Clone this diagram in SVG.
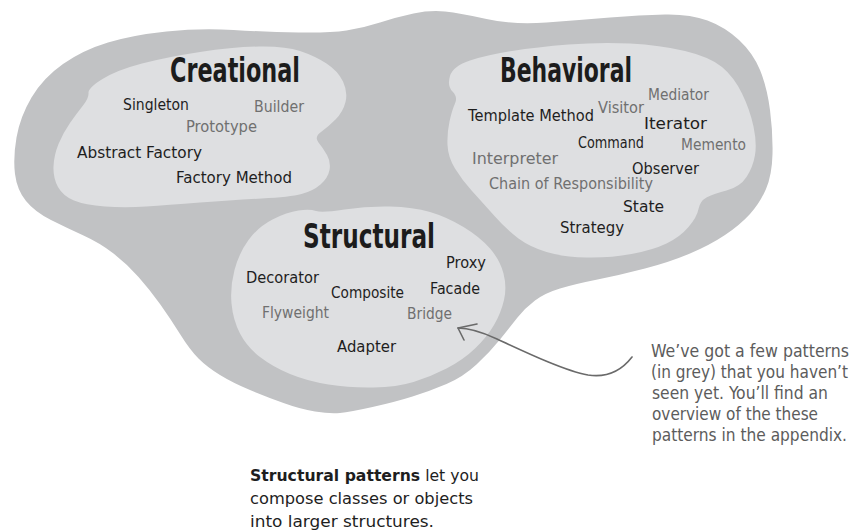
<svg xmlns="http://www.w3.org/2000/svg" width="850" height="531" viewBox="0 0 850 531">
<style>
.outer{fill:#c1c2c4}
.bub{fill:#dedfe1}
.title{font-family:"DejaVu Sans",sans-serif;font-weight:bold;font-stretch:condensed;font-size:34px;fill:#1c1c1c}
.it{font-family:"DejaVu Sans",sans-serif;font-size:15px;fill:#1e1e1e}
.g{fill:#707070}
.note{font-family:"DejaVu Sans",sans-serif;font-stretch:condensed;font-size:17px;fill:#5c5c5c}
.cap{font-family:"DejaVu Sans",sans-serif;font-size:15px;fill:#1e1e1e}
.conn{fill:none;stroke:#6a6a6a;stroke-width:1.6;stroke-linecap:round;stroke-linejoin:round}
</style>
<rect width="850" height="531" fill="#ffffff"/>
<g id="outer">
<path class="outer" d="M166.5,31.5 Q200,28 233.5,30 Q267,32 298.5,32.5 Q330,33 346.5,30.5 Q363,28 380,22.5 Q397,17 413.5,13.5 Q430,10 445,11.5 Q460,13 486.5,19 Q513,25 546.5,22.5 Q580,20 610,17.5 Q640,15 665,14.5 Q690,14 707.5,20.5 Q725,27 739,40 Q753,53 760,70 Q767,87 770,110 Q773,133 772.5,154 Q772,175 766,189 Q760,203 750,214 Q740,225 725,235 Q710,245 690,253.5 Q670,262 645,268.5 Q620,275 597.5,279.5 Q575,284 560,288.5 Q545,293 535,300.5 Q525,308 517.5,317.5 Q510,327 500,339.5 Q490,352 476.5,364.5 Q463,377 446.5,384 Q430,391 412.5,396.5 Q395,402 372.5,407 Q350,412 340,413 Q330,414 315,411.5 Q300,409 283.5,403 Q267,397 250,390 Q233,383 220,375 Q207,367 198.5,358.5 Q190,350 180,334 Q170,318 160,304 Q150,290 138.5,277 Q127,264 113.5,253.5 Q100,243 83.5,235.5 Q67,228 51,220 Q35,212 26,201 Q17,190 15,174 Q13,158 16.5,137.5 Q20,117 31.5,97.5 Q43,78 63,64 Q83,50 108,42.5 Q133,35 166.5,31.5 Z"/>
</g>
<g id="creational">
<path class="bub" d="M88.5,93 Q88,88 102.5,79 Q117,70 142,63.5 Q167,57 200,52 Q233,47 259,46.5 Q285,46 300,51 Q315,56 326.5,63.5 Q338,71 343,81.5 Q348,92 345.5,102 Q343,112 335.5,119.5 Q328,127 321,132 Q314,137 318.5,142.5 Q323,148 327,155 Q331,162 329.5,170 Q328,178 320.5,184.5 Q313,191 301.5,194 Q290,197 261.5,198.5 Q233,200 200,202.5 Q167,205 146,206.5 Q125,208 105,206.5 Q85,205 74,200.5 Q63,196 58,187 Q53,178 53.5,166.5 Q54,155 58.5,144 Q63,133 70,123 Q77,113 83,105.5 Q89,98 88.5,93 Z"/>
<text class="title" transform="translate(170,82) scale(0.72,1)" x="0" y="0" textLength="180.6" lengthAdjust="spacingAndGlyphs">Creational</text>
<text class="it" x="123" y="110" textLength="66" lengthAdjust="spacingAndGlyphs">Singleton</text>
<text class="it g" x="254" y="112" textLength="50" lengthAdjust="spacingAndGlyphs">Builder</text>
<text class="it g" x="186" y="132" textLength="71" lengthAdjust="spacingAndGlyphs">Prototype</text>
<text class="it" x="77" y="158" textLength="125" lengthAdjust="spacingAndGlyphs">Abstract Factory</text>
<text class="it" x="176" y="183" textLength="116" lengthAdjust="spacingAndGlyphs">Factory Method</text>
</g>
<g id="behavioral">
<path class="bub" d="M450,76 Q453,66 470,60.5 Q487,55 512,51 Q537,47 568.5,44.5 Q600,42 630,43.5 Q660,45 685,51 Q710,57 722,67 Q734,77 742,93.5 Q750,110 753.5,126.5 Q757,143 755,155 Q753,167 746.5,177 Q740,187 726.5,190.5 Q713,194 706.5,197.5 Q700,201 698.5,209 Q697,217 688.5,227 Q680,237 666.5,243.5 Q653,250 631.5,254 Q610,258 586.5,257.5 Q563,257 546.5,252 Q530,247 518.5,238.5 Q507,230 494.5,216 Q482,202 472,191 Q462,180 455,168.5 Q448,157 447.5,145 Q447,133 449.5,121.5 Q452,110 455,103.5 Q458,97 452.5,91.5 Q447,86 450,76 Z"/>
<text class="title" transform="translate(500,82) scale(0.72,1)" x="0" y="0" textLength="183.3" lengthAdjust="spacingAndGlyphs">Behavioral</text>
<text class="it g" x="648" y="100" textLength="61" lengthAdjust="spacingAndGlyphs">Mediator</text>
<text class="it g" x="598" y="113" font-size="14" textLength="46" lengthAdjust="spacingAndGlyphs">Visitor</text>
<text class="it" x="468" y="121" textLength="126" lengthAdjust="spacingAndGlyphs">Template Method</text>
<text class="it" x="644" y="129" textLength="63" lengthAdjust="spacingAndGlyphs">Iterator</text>
<text class="it" x="578" y="148" textLength="66" lengthAdjust="spacingAndGlyphs">Command</text>
<text class="it g" x="681" y="150" textLength="65" lengthAdjust="spacingAndGlyphs">Memento</text>
<text class="it g" x="472" y="164" textLength="86" lengthAdjust="spacingAndGlyphs">Interpreter</text>
<text class="it" x="632" y="174" textLength="67" lengthAdjust="spacingAndGlyphs">Observer</text>
<text class="it g" x="489" y="189" textLength="164" lengthAdjust="spacingAndGlyphs">Chain of Responsibility</text>
<text class="it" x="623" y="212" textLength="41" lengthAdjust="spacingAndGlyphs">State</text>
<text class="it" x="560" y="233" textLength="64" lengthAdjust="spacingAndGlyphs">Strategy</text>
</g>
<g id="structural">
<path class="bub" d="M272.5,219.5 Q287,212 298.5,210.5 Q310,209 316,211 Q322,213 344.5,209.5 Q367,206 390,206.5 Q413,207 430,212 Q447,217 463.5,227 Q480,237 490,248.5 Q500,260 503.5,273.5 Q507,287 504,300 Q501,313 494,325 Q487,337 475,348.5 Q463,360 446.5,368.5 Q430,377 413.5,382 Q397,387 373.5,387.5 Q350,388 328.5,384.5 Q307,381 290,374 Q273,367 260,357 Q247,347 240,333.5 Q233,320 231.5,303.5 Q230,287 234.5,270 Q239,253 248.5,240 Q258,227 272.5,219.5 Z"/>
<text class="title" transform="translate(303,248) scale(0.72,1)" x="0" y="0" textLength="183.3" lengthAdjust="spacingAndGlyphs">Structural</text>
<text class="it" x="446" y="268" textLength="40" lengthAdjust="spacingAndGlyphs">Proxy</text>
<text class="it" x="246" y="283" textLength="73" lengthAdjust="spacingAndGlyphs">Decorator</text>
<text class="it" x="430" y="294" textLength="50" lengthAdjust="spacingAndGlyphs">Facade</text>
<text class="it" x="331" y="298" textLength="73" lengthAdjust="spacingAndGlyphs">Composite</text>
<text class="it g" x="262" y="318" textLength="67" lengthAdjust="spacingAndGlyphs">Flyweight</text>
<text class="it g" x="407" y="319" textLength="45" lengthAdjust="spacingAndGlyphs">Bridge</text>
<text class="it" x="337" y="352" textLength="59" lengthAdjust="spacingAndGlyphs">Adapter</text>
</g>
<g id="connectors">
<path class="conn" d="M632,357 C622,370 608,378 588,375 C565,371 525,352 497,339 C482,332 468,328 458,328"/>
<path class="conn" d="M477,324 L458,328 L464,340"/>
</g>
<g id="note">
<text class="note" x="651" y="357" textLength="198" lengthAdjust="spacingAndGlyphs">We’ve got a few patterns</text>
<text class="note" x="651" y="378" textLength="197" lengthAdjust="spacingAndGlyphs">(in grey) that you haven’t</text>
<text class="note" x="652" y="399" textLength="176" lengthAdjust="spacingAndGlyphs">seen yet.  You’ll find an</text>
<text class="note" x="652" y="420" textLength="166" lengthAdjust="spacingAndGlyphs">overview of the these</text>
<text class="note" x="652" y="441" textLength="195" lengthAdjust="spacingAndGlyphs">patterns in the appendix.</text>
</g>
<g id="caption">
<text class="cap" x="250" y="481" textLength="229" lengthAdjust="spacingAndGlyphs"><tspan font-weight="bold">Structural patterns</tspan> let you</text>
<text class="cap" x="250" y="504" textLength="223" lengthAdjust="spacingAndGlyphs">compose classes or objects</text>
<text class="cap" x="250" y="527" textLength="184" lengthAdjust="spacingAndGlyphs">into larger structures.</text>
</g>
</svg>
